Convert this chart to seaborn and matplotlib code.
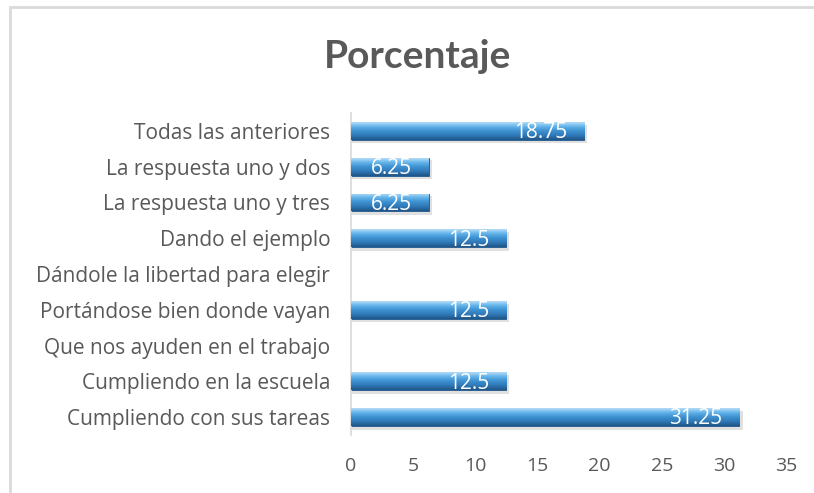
import matplotlib
matplotlib.use("Agg")
import matplotlib.pyplot as plt
import seaborn as sns
import numpy as np
import pandas as pd
from matplotlib.patches import Rectangle
from matplotlib.colors import LinearSegmentedColormap

categories = [
    "Todas las anteriores",
    "La respuesta uno y dos",
    "La respuesta uno y tres",
    "Dando el ejemplo",
    "Dándole la libertad para elegir",
    "Portándose bien donde vayan",
    "Que nos ayuden en el trabajo",
    "Cumpliendo en la escuela",
    "Cumpliendo con sus tareas",
]
values = [18.75, 6.25, 6.25, 12.5, 0, 12.5, 0, 12.5, 31.25]
labels = ["18.75", "6.25", "6.25", "12.5", "", "12.5", "", "12.5", "31.25"]
xticks = [0, 5, 10, 15, 20, 25, 30, 35]
title = "Porcentaje"

df = pd.DataFrame({"cat": categories, "val": values})

sns.set_theme(style="white")
plt.rcParams["font.family"] = ["Open Sans", "DejaVu Sans"]

W, H = 814, 493
fig = plt.figure(figsize=(W / 100, H / 100), dpi=100)
ax = fig.add_axes([351 / W, 1 - 435 / H, (786 - 351) / W, (435 - 113) / H])

sns.barplot(data=df, x="val", y="cat", ax=ax, color="#3a8ccd", width=0.5,
            saturation=1, edgecolor="none", orient="h")

ax.set_xlim(0, 35)
ax.set_ylim(len(categories) - 0.5, -0.5)
ax.set_xticks(xticks)
ax.set_xticklabels([str(t) for t in xticks])
ax.set_xlabel("")
ax.set_ylabel("")
ax.tick_params(axis="x", labelsize=14, colors="#595959", pad=16, length=0)
ax.tick_params(axis="y", labelsize=15, colors="#595959", pad=15, length=0)
for s in ["top", "right", "bottom"]:
    ax.spines[s].set_visible(False)
ax.spines["left"].set_color("#d9d9d9")
ax.spines["left"].set_linewidth(1.2)

# gradient / bevel look
cmap = LinearSegmentedColormap.from_list(
    "bev", ["#b5dcf7", "#62b3ea", "#3d90d0", "#3079b6", "#1f5588"])
grad = np.linspace(0, 1, 64).reshape(-1, 1)
for p in list(ax.patches):
    w = p.get_width()
    if w <= 0:
        continue
    x0, y0, h = p.get_x(), p.get_y(), p.get_height()
    sh = Rectangle((x0, y0 + h * 0.15), w + 0.25, h * 1.05, facecolor="#000000",
                   alpha=0.12, edgecolor="none", zorder=1)
    ax.add_patch(sh)
    im = ax.imshow(grad, cmap=cmap, aspect="auto", extent=(x0, x0 + w, y0 + h, y0),
                   zorder=3, interpolation="bicubic")
    im.set_clip_path(p)
    p.set_zorder(2)
    p.set_edgecolor("#1f5588")
    p.set_linewidth(0.6)

ax.set_xlim(0, 35)
ax.set_ylim(len(categories) - 0.5, -0.5)

for i, (v, lab) in enumerate(zip(values, labels)):
    if lab:
        ax.text(v - 1.35, i + 0.05, lab, ha="right", va="center", color="white",
                fontsize=15, zorder=5)

fig.text(418 / W, 1 - 56 / H, title, ha="center", va="center", fontsize=28,
         fontweight="bold", color="#595959", family=["Lato", "DejaVu Sans"])

fig.patches.append(Rectangle((10 / W, -0.1), 1.2, 1 - 7 / H + 0.1,
                             transform=fig.transFigure, fill=False,
                             edgecolor="#d9d9d9", linewidth=2))

fig.savefig("out.png", dpi=100)
